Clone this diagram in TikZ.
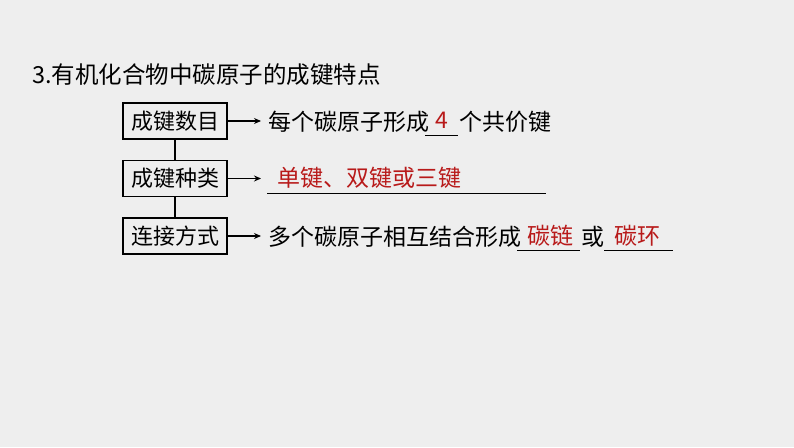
\documentclass[tikz,border=0pt]{standalone}
\usepackage{fontspec}
\setmainfont{Noto Sans CJK SC}
\usetikzlibrary{arrows.meta}
\definecolor{bg}{HTML}{EEEEEE}
\definecolor{ans}{HTML}{B81A1A}
\tikzset{
  box/.style={draw=black, line width=1.3pt, minimum width=104pt, minimum height=36pt, inner sep=0pt, font=\fontsize{22}{26}\selectfont},
  txt/.style={anchor=west, inner sep=0pt, font=\fontsize{23}{27}\selectfont},
  red/.style={txt, anchor=center, text=ans},
  conn/.style={line width=1.1pt},
  arr/.style={line width=1.1pt, -{Stealth[length=7pt,width=6pt]}},
  uline/.style={line width=1pt}
}
\begin{document}
\begin{tikzpicture}[x=1pt,y=-1pt]
\fill[bg] (0,0) rectangle (794,447);
\useasboundingbox (0,0) rectangle (794,447);
% title
\node[txt, font=\fontsize{23.5}{27}\selectfont] (title) at (32,75) {3.有机化合物中碳原子的成键特点};
% boxes
\node[box] (b1) at (175,121) {成键数目};
\node[box] (b2) at (175,178.5) {成键种类};
\node[box] (b3) at (175,236) {连接方式};
\draw[conn] (b1) -- (b2);
\draw[conn] (b2) -- (b3);
% line 1
\coordinate (e1) at (261,121);
\draw[arr] (b1.east) -- (e1);
\node[txt] (l1a) at (268,122) {每个碳原子形成};
\coordinate (u1s) at (425,135);
\coordinate (u1e) at (458,135);
\draw[uline] (u1s) -- (u1e);
\node[red] (a1) at (442,120) {4};
\node[txt] (l1b) at (459,122) {个共价键};
% line 2
\coordinate (e2) at (261,178.5);
\draw[arr] (b2.east) -- (e2);
\coordinate (u2s) at (267,193);
\coordinate (u2e) at (546,193);
\draw[uline] (u2s) -- (u2e);
\node[red, anchor=west] (a2) at (277,178) {单键、双键或三键};
% line 3
\coordinate (e3) at (261,236);
\draw[arr] (b3.east) -- (e3);
\node[txt] (l3a) at (268,237) {多个碳原子相互结合形成};
\coordinate (u3s) at (517,250);
\coordinate (u3e) at (580,250);
\draw[uline] (u3s) -- (u3e);
\node[red] (a3) at (550,236) {碳链};
\node[txt] (l3b) at (581,237) {或};
\coordinate (u4s) at (604,250);
\coordinate (u4e) at (673,250);
\draw[uline] (u4s) -- (u4e);
\node[red] (a4) at (637,236) {碳环};
\end{tikzpicture}
\end{document}
